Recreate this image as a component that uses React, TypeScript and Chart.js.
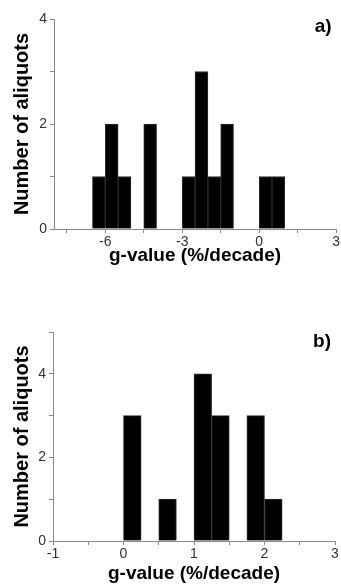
import React, { useEffect, useRef } from "react";
import { Chart, registerables } from "chart.js";

Chart.register(...registerables);

// ---------- data ----------
// Panel a) : g-value bins (centres, %/decade) and counts
const binCentersA = [-6.25, -5.75, -5.25, -4.25, -2.75, -2.25, -1.75, -1.25, 0.25, 0.75];
const countsA = [1, 2, 1, 2, 1, 3, 1, 2, 1, 1];
const xTickValuesA = [-7.5, -6, -4.5, -3, -1.5, 0, 1.5, 3];
const xTickLabelsA = [-6, -3, 0, 3];
const yTickLabelsA = [0, 2, 4];

// Panel b)
const binCentersB = [0.125, 0.625, 1.125, 1.375, 1.875, 2.125];
const countsB = [3, 1, 4, 3, 3, 1];
const xTickValuesB = [-1, -0.5, 0, 0.5, 1, 1.5, 2, 2.5, 3];
const xTickLabelsB = [-1, 0, 1, 2, 3];
const yTickLabelsB = [0, 2, 4];

const xTitle = "g-value (%/decade)";
const yTitle = "Number of aliquots";

const FONT = "'Liberation Sans', Arial, Helvetica, sans-serif";
const AXIS_COLOR = "#8a8a8a";
const TICK_TEXT = "#333333";

type PanelProps = {
  width: number;
  height: number;
  top: number;
  centers: number[];
  counts: number[];
  xMin: number;
  xMax: number;
  xTickValues: number[];
  xTickLabels: number[];
  yMax: number;
  yTickLabels: number[];
  label: string;
  pad: { top: number; right: number; left: number; bottom: number };
  yAxisWidth: number;
  xAxisHeight: number;
  xTitleBottom: number;
  labelDy: number;
};

function Panel(p: PanelProps) {
  const ref = useRef<HTMLCanvasElement | null>(null);

  useEffect(() => {
    if (!ref.current) return;
    const panelLabel = {
      id: "panelLabel",
      afterDraw(chart: any) {
        const { ctx, chartArea } = chart;
        ctx.save();
        ctx.font = `bold 19px ${FONT}`;
        ctx.fillStyle = "#000";
        ctx.textAlign = "center";
        ctx.textBaseline = "middle";
        ctx.fillText(p.label, chartArea.right - 13, chartArea.top + p.labelDy);
        ctx.restore();
      },
    };

    const chart = new Chart(ref.current, {
      type: "bar",
      data: {
        datasets: [
          {
            data: p.centers.map((c, i) => ({ x: c, y: p.counts[i] })),
            backgroundColor: "#000000",
            borderColor: "#2e2e2e",
            borderWidth: 1,
            barPercentage: 1,
            categoryPercentage: 1,
          },
        ],
      },
      options: {
        animation: false,
        responsive: false,
        devicePixelRatio: 1,
        layout: { padding: p.pad },
        plugins: {
          legend: { display: false },
          tooltip: { enabled: false },
        },
        scales: {
          x: {
            type: "linear",
            offset: false,
            min: p.xMin,
            max: p.xMax,
            afterBuildTicks: (scale: any) => {
              scale.ticks = p.xTickValues.map((v) => ({ value: v }));
            },
            afterFit: (scale: any) => {
              scale.height = p.xAxisHeight;
            },
            grid: {
              offset: false,
              drawOnChartArea: false,
              drawTicks: true,
              tickLength: 4,
              tickColor: AXIS_COLOR,
            },
            border: { display: true, color: AXIS_COLOR, width: 1 },
            ticks: {
              autoSkip: false,
              maxRotation: 0,
              padding: 1,
              color: TICK_TEXT,
              font: { family: FONT, size: 14 },
              callback: (v: any) => (p.xTickLabels.includes(Number(v)) ? String(v) : ""),
            },
            title: {
              display: true,
              text: xTitle,
              color: "#000",
              font: { family: FONT, size: 19, weight: "bold" },
              padding: { top: 0, bottom: p.xTitleBottom },
            },
          },
          y: {
            type: "linear",
            min: 0,
            max: p.yMax,
            afterFit: (scale: any) => {
              scale.width = p.yAxisWidth;
            },
            grid: {
              drawOnChartArea: false,
              drawTicks: true,
              tickLength: 4,
              tickColor: AXIS_COLOR,
            },
            border: { display: true, color: AXIS_COLOR, width: 1 },
            ticks: {
              stepSize: 1,
              autoSkip: false,
              padding: 3,
              color: TICK_TEXT,
              font: { family: FONT, size: 14 },
              callback: (v: any) => (p.yTickLabels.includes(Number(v)) ? String(v) : ""),
            },
            title: {
              display: true,
              text: yTitle,
              color: "#000",
              font: { family: FONT, size: 20, weight: "bold" },
              padding: { top: 10, bottom: 0 },
            },
          },
        },
      },
      plugins: [panelLabel],
    });
    return () => chart.destroy();
  }, []);

  return (
    <div style={{ position: "absolute", left: 0, top: p.top, width: p.width, height: p.height }}>
      <canvas
        ref={ref}
        width={p.width}
        height={p.height}
        style={{ width: p.width, height: p.height, display: "block" }}
      />
    </div>
  );
}

export default function App() {
  return (
    <div
      style={{
        position: "fixed",
        left: 0,
        top: 0,
        width: 341,
        height: 588,
        background: "#ffffff",
        overflow: "hidden",
      }}
    >
      <Panel
        width={341}
        height={290}
        top={0}
        centers={binCentersA}
        counts={countsA}
        xMin={-8}
        xMax={3}
        xTickValues={xTickValuesA}
        xTickLabels={xTickLabelsA}
        yMax={4}
        yTickLabels={yTickLabelsA}
        label="a)"
        pad={{ top: 19, right: 4, left: 0, bottom: 0 }}
        yAxisWidth={54}
        xAxisHeight={61}
        xTitleBottom={23}
        labelDy={8}
      />
      <Panel
        width={341}
        height={298}
        top={290}
        centers={binCentersB}
        counts={countsB}
        xMin={-1}
        xMax={3}
        xTickValues={xTickValuesB}
        xTickLabels={xTickLabelsB}
        yMax={5}
        yTickLabels={yTickLabelsB}
        label="b)"
        pad={{ top: 42, right: 6, left: 0, bottom: 0 }}
        yAxisWidth={53}
        xAxisHeight={47}
        xTitleBottom={3}
        labelDy={10}
      />
    </div>
  );
}
